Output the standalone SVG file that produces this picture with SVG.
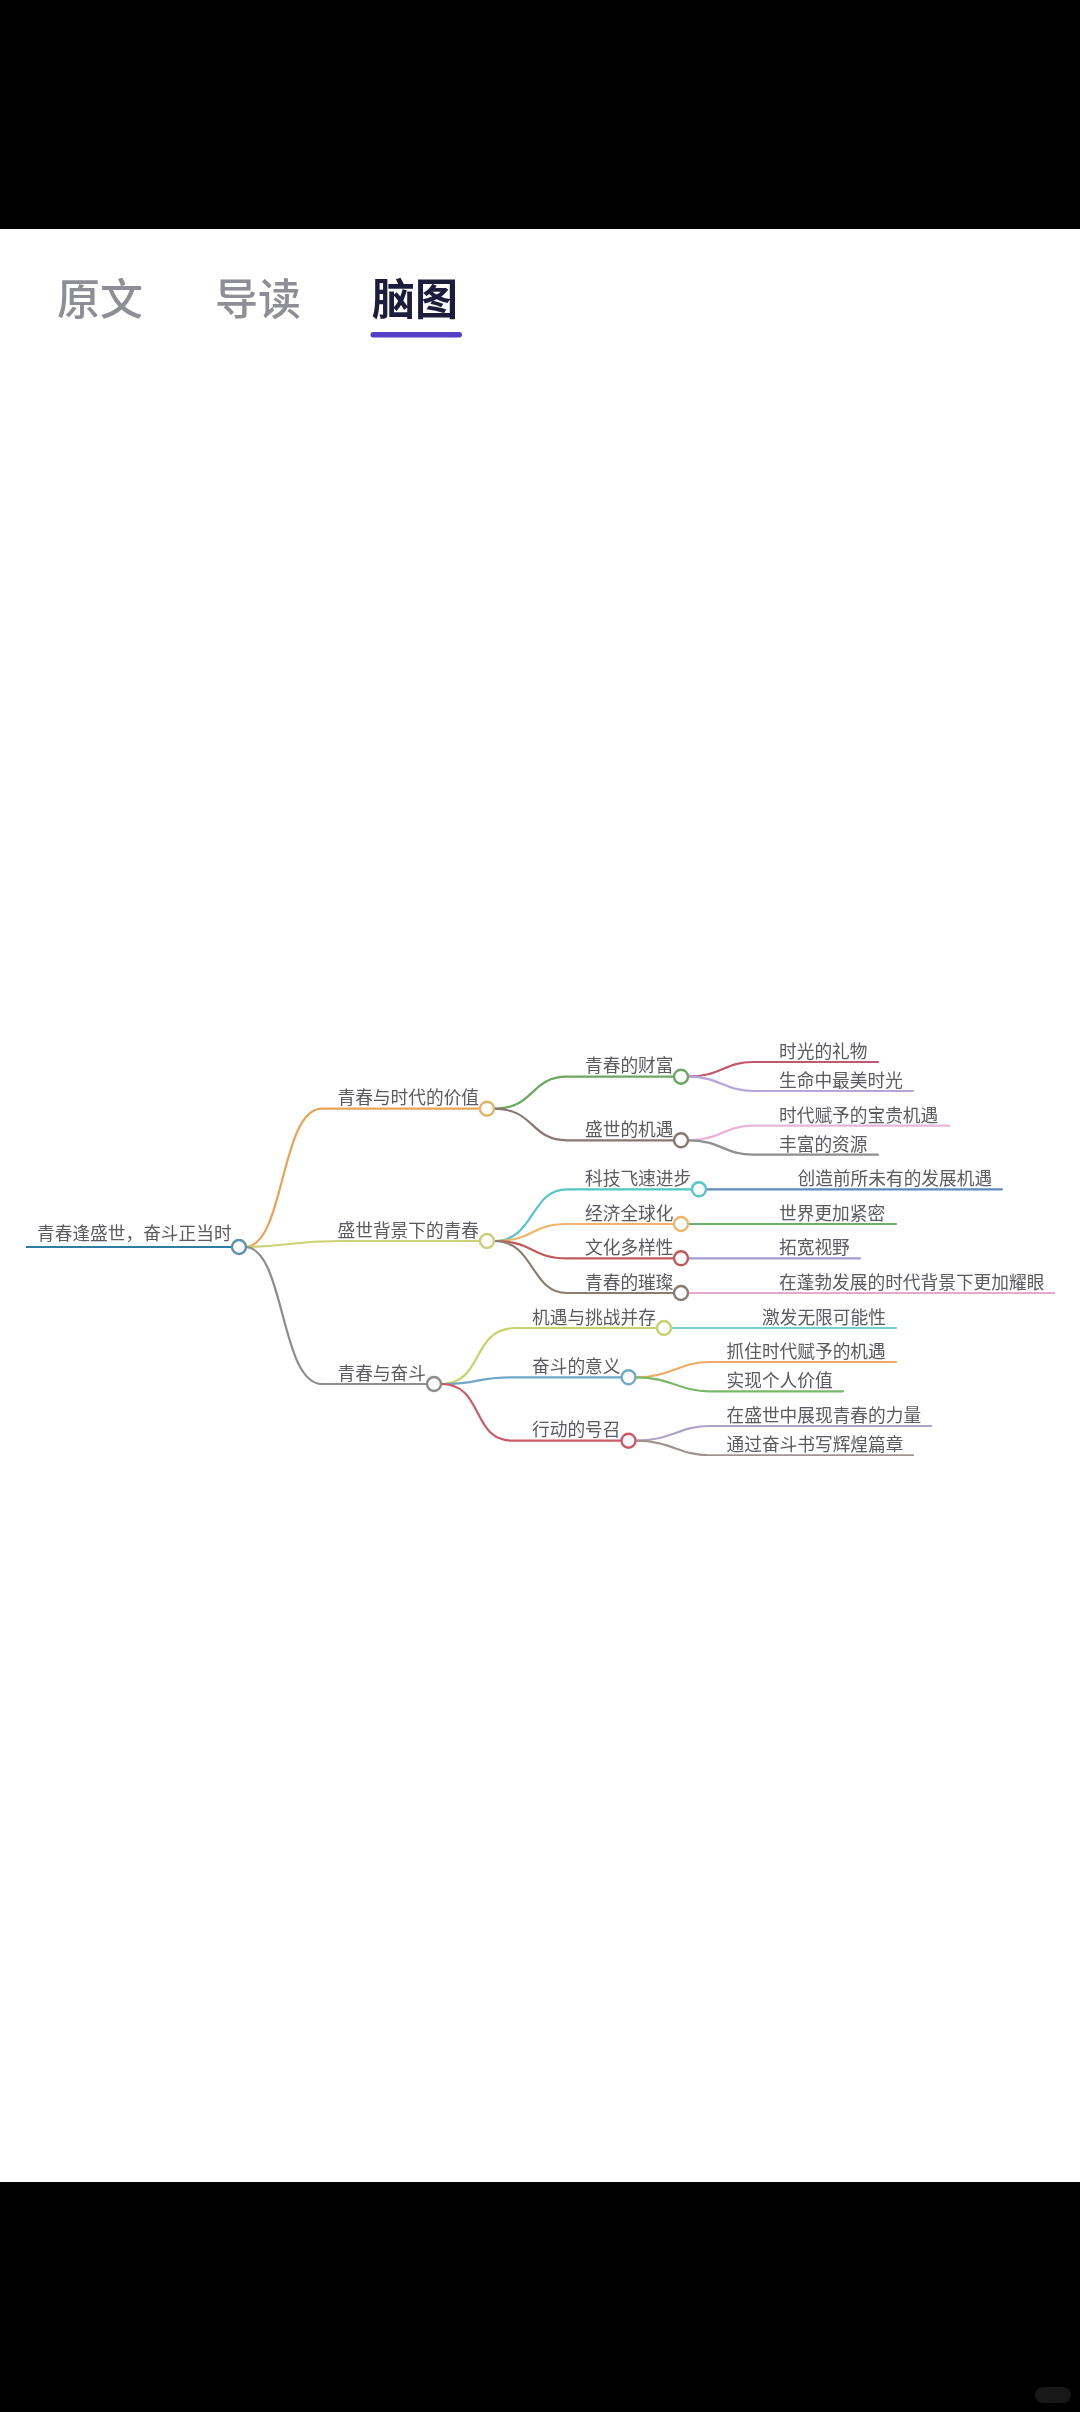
<svg xmlns="http://www.w3.org/2000/svg" width="1080" height="2412" viewBox="0 0 1080 2412">
<defs><filter id="soft" x="0" y="0" width="1" height="1"><feGaussianBlur stdDeviation="0.45"/></filter></defs>
<style>
text{font-family:"Noto Sans CJK SC","Noto Sans",sans-serif;}
.t{font-size:17.7px;fill:#5a5a62;}
.tab{font-size:43px;font-weight:500;fill:#8e8e96;}
.on{font-weight:700;fill:#1b1a3c;}
.c{fill:none;stroke-width:2.2;stroke-linecap:round;}
.d{fill:#fafdfb;stroke-width:2.4;}
</style>
<rect width="1080" height="2412" fill="#fff"/>
<rect width="1080" height="229" fill="#000"/>
<rect y="2182" width="1080" height="230" fill="#000"/>
<rect x="1035" y="2387" width="36" height="16" rx="8" fill="#181818"/>
<g filter="url(#soft)">
<g id="tabs">
<text class="tab" x="57" y="315">原文</text>
<text class="tab" x="215" y="315">导读</text>
<text class="tab on" x="372" y="315">脑图</text>
<rect x="370.5" y="332" width="91.500" height="5.500" rx="2.700" fill="#5540c8"/>
</g>
<g id="connectors">
<path class="c" d="M26 1247H232" stroke="#2f7ca6" stroke-width="3"/>
<path class="c" d="M245 1247C285 1247 280 1108.700 322 1108.700H480" stroke="#e8a458"/>
<path class="c" d="M245 1247C285 1247 290 1241 340 1241H480" stroke="#cdd277"/>
<path class="c" d="M245 1247C285 1247 280 1384 322 1384H427" stroke="#8c8c8c"/>
<path class="c" d="M494 1108.700C535 1108.700 530 1076.700 567 1076.700H674" stroke="#6aa860"/>
<path class="c" d="M494 1108.700C535 1108.700 530 1140.300 567 1140.300H674" stroke="#8a7570"/>
<path class="c" d="M494 1241C535 1241 530 1189.300 567 1189.300H692" stroke="#56c4c8"/>
<path class="c" d="M494 1241C535 1241 530 1224 567 1224H674" stroke="#f0b368"/>
<path class="c" d="M494 1241C535 1241 530 1258.300 567 1258.300H674" stroke="#c05a5a"/>
<path class="c" d="M494 1241C535 1241 530 1293 567 1293H674" stroke="#8a7c6e"/>
<path class="c" d="M441 1384C485 1384 470 1328 516 1328H657" stroke="#c8d36e"/>
<path class="c" d="M441 1384C485 1384 470 1377.300 513 1377.300H622" stroke="#6ea8c8"/>
<path class="c" d="M441 1384C485 1384 470 1440.700 513 1440.700H622" stroke="#cc5a68"/>
<path class="c" d="M688 1076.700C720 1076.700 725 1062 753 1062H878" stroke="#c2596d"/>
<path class="c" d="M688 1076.700C720 1076.700 725 1091 753 1091H913" stroke="#b5a5d8"/>
<path class="c" d="M688 1140.300C720 1140.300 725 1125.700 753 1125.700H949" stroke="#e8b5da"/>
<path class="c" d="M688 1140.300C720 1140.300 725 1154.700 753 1154.700H878" stroke="#8f8f8f"/>
<path class="c" d="M706 1189.300H1002" stroke="#5f8bc0"/>
<path class="c" d="M688 1224H896" stroke="#6aae6a"/>
<path class="c" d="M688 1258.300H860" stroke="#a69bd0"/>
<path class="c" d="M688 1293H1055" stroke="#e3a9cf"/>
<path class="c" d="M671 1328H896" stroke="#72d2d2"/>
<path class="c" d="M636 1377.300C670 1377.300 680 1362 709 1362H896" stroke="#f0ab62"/>
<path class="c" d="M636 1377.300C670 1377.300 680 1391.300 709 1391.300H843" stroke="#78b868"/>
<path class="c" d="M636 1440.700C670 1440.700 680 1426 709 1426H931" stroke="#b0a4c4"/>
<path class="c" d="M636 1440.700C670 1440.700 680 1455.300 709 1455.300H913" stroke="#a49292"/>
</g>
<g id="root"><text class="t" x="37" y="1239.500">青春逢盛世，奋斗正当时</text><circle class="d" cx="239" cy="1247" r="7" stroke="#5d93ad"/></g>
<g id="n1"><text class="t" x="337.500" y="1103.500">青春与时代的价值</text><circle class="d" cx="487" cy="1108.700" r="7" stroke="#e3b36c"/></g>
<g id="n2"><text class="t" x="337.500" y="1236.500">盛世背景下的青春</text><circle class="d" cx="487" cy="1241" r="7" stroke="#c8d07c"/></g>
<g id="n3"><text class="t" x="337.500" y="1379.500">青春与奋斗</text><circle class="d" cx="434" cy="1384" r="7" stroke="#8c8c8c"/></g>
<g id="n11"><text class="t" x="585" y="1071.500">青春的财富</text><circle class="d" cx="681" cy="1076.700" r="7" stroke="#6aa860"/></g>
<g id="n12"><text class="t" x="585" y="1135.500">盛世的机遇</text><circle class="d" cx="681" cy="1140.300" r="7" stroke="#8a7570"/></g>
<g id="n21"><text class="t" x="585" y="1184.500">科技飞速进步</text><circle class="d" cx="699" cy="1189.300" r="7" stroke="#56c4c8"/></g>
<g id="n22"><text class="t" x="585" y="1219.500">经济全球化</text><circle class="d" cx="681" cy="1224" r="7" stroke="#edb76e"/></g>
<g id="n23"><text class="t" x="585" y="1253.500">文化多样性</text><circle class="d" cx="681" cy="1258.300" r="7" stroke="#c05a5a"/></g>
<g id="n24"><text class="t" x="585" y="1288.500">青春的璀璨</text><circle class="d" cx="681" cy="1293" r="7" stroke="#8a7c6e"/></g>
<g id="n31"><text class="t" x="532" y="1323.500">机遇与挑战并存</text><circle class="d" cx="664" cy="1328" r="7" stroke="#c8d36e"/></g>
<g id="n32"><text class="t" x="532" y="1372.500">奋斗的意义</text><circle class="d" cx="628.500" cy="1377.300" r="7" stroke="#6ea8c8"/></g>
<g id="n33"><text class="t" x="532" y="1435.500">行动的号召</text><circle class="d" cx="628.500" cy="1440.700" r="7" stroke="#cc5a68"/></g>
<g id="l1"><text class="t" x="779" y="1057.500">时光的礼物</text></g>
<g id="l2"><text class="t" x="779" y="1086.500">生命中最美时光</text></g>
<g id="l3"><text class="t" x="779" y="1121.500">时代赋予的宝贵机遇</text></g>
<g id="l4"><text class="t" x="779" y="1150.500">丰富的资源</text></g>
<g id="l5"><text class="t" x="797.500" y="1184.500">创造前所未有的发展机遇</text></g>
<g id="l6"><text class="t" x="779" y="1219.500">世界更加紧密</text></g>
<g id="l7"><text class="t" x="779" y="1253.500">拓宽视野</text></g>
<g id="l8"><text class="t" x="779" y="1288.500">在蓬勃发展的时代背景下更加耀眼</text></g>
<g id="l9"><text class="t" x="762" y="1323.500">激发无限可能性</text></g>
<g id="l10"><text class="t" x="726.500" y="1357.500">抓住时代赋予的机遇</text></g>
<g id="l11"><text class="t" x="726.500" y="1386.500">实现个人价值</text></g>
<g id="l12"><text class="t" x="726.500" y="1421.500">在盛世中展现青春的力量</text></g>
<g id="l13"><text class="t" x="726.500" y="1450.500">通过奋斗书写辉煌篇章</text></g>
</g>
</svg>
